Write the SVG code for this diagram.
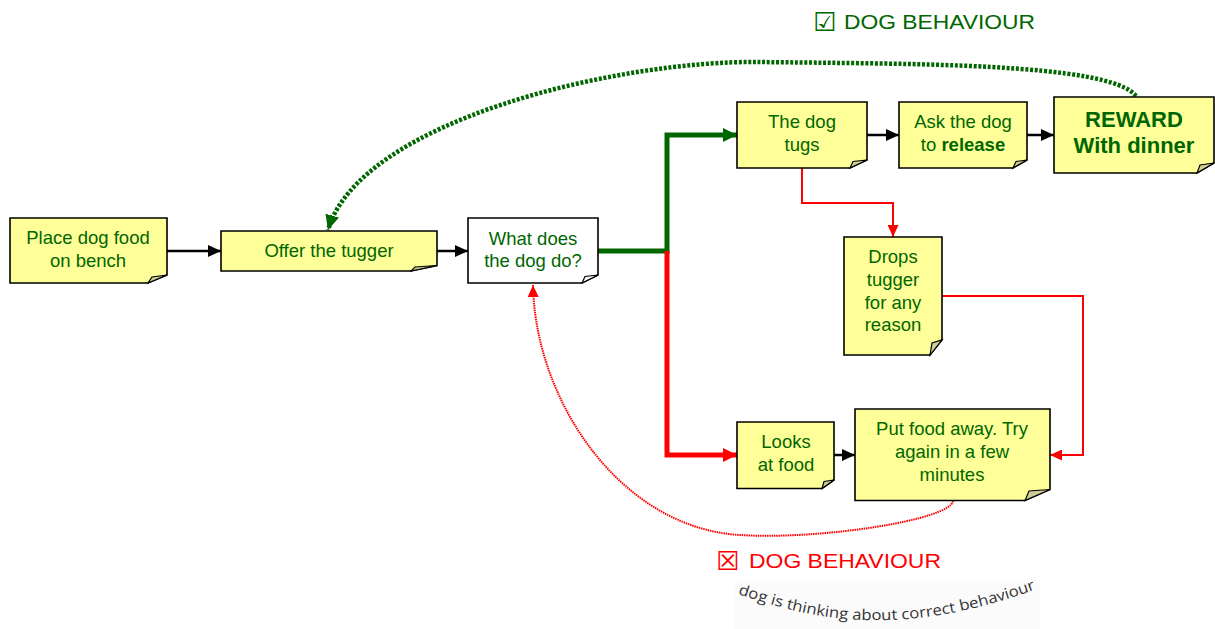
<svg xmlns="http://www.w3.org/2000/svg" width="1215" height="629" viewBox="0 0 1215 629">
<style>
.box{fill:#FFFF99;stroke:#000;stroke-width:1.6}
.wbox{fill:#fff;stroke:#000;stroke-width:1.6}
.fold{fill:#CFCF95;stroke:#000;stroke-width:1.2}
.wfold{fill:#fff;stroke:#000;stroke-width:1.2}
.t{font-family:"Liberation Sans",Arial,sans-serif;font-size:18.5px;fill:#006600;text-anchor:middle}
.b{font-weight:bold}
.blk{fill:none;stroke:#000;stroke-width:2.5}
.thin{fill:none;stroke:#FF0000;stroke-width:2}
</style>
<defs>
<marker id="ab" markerUnits="userSpaceOnUse" markerWidth="13" markerHeight="12" refX="13" refY="6" orient="auto"><path d="M0,0 L13,6 L0,12 Z" fill="#000"/></marker>
<marker id="ag" markerUnits="userSpaceOnUse" markerWidth="14" markerHeight="14" refX="14" refY="7" orient="auto"><path d="M0,0 L14,7 L0,14 Z" fill="#006600"/></marker>
<marker id="ar" markerUnits="userSpaceOnUse" markerWidth="14" markerHeight="14" refX="14" refY="7" orient="auto"><path d="M0,0 L14,7 L0,14 Z" fill="#FF0000"/></marker>
<marker id="ars" markerUnits="userSpaceOnUse" markerWidth="12" markerHeight="11" refX="12" refY="5.5" orient="auto"><path d="M0,0 L12,5.5 L0,11 Z" fill="#FF0000"/></marker>
<marker id="agd" markerUnits="userSpaceOnUse" markerWidth="15" markerHeight="14" refX="15" refY="7" orient="auto"><path d="M0,0 L15,7 L0,14 Z" fill="#006600"/></marker>
</defs>

<rect x="735" y="583" width="305" height="46" fill="#fbfbfb"/>

<g id="connectors">
<line class="blk" x1="167" y1="251" x2="221" y2="251" marker-end="url(#ab)"/>
<line class="blk" x1="437" y1="251" x2="468" y2="251" marker-end="url(#ab)"/>
<path d="M598 251 H667 V135 H737" fill="none" stroke="#006600" stroke-width="5" marker-end="url(#ag)"/>
<path d="M667 251 V455 H737" fill="none" stroke="#FF0000" stroke-width="5" marker-end="url(#ar)"/>
<line class="blk" x1="867" y1="135" x2="899" y2="135" marker-end="url(#ab)"/>
<line class="blk" x1="1027" y1="135" x2="1054" y2="135" marker-end="url(#ab)"/>
<path class="thin" d="M802 168 V203 H893 V237" marker-end="url(#ars)"/>
<path class="thin" d="M942 296 H1083 V455 H1050" marker-end="url(#ars)"/>
<line class="blk" x1="834" y1="455" x2="855" y2="455" marker-end="url(#ab)"/>
<path d="M1136 96 C1110 62 900 64 760 62 C620 60 360 120 328 230" fill="none" stroke="#006600" stroke-width="4.5" stroke-dasharray="3 1.7" marker-end="url(#agd)"/>
<path d="M953 501 C950 520 820 540 740 535 C620 528 535 400 533 285" fill="none" stroke="#FF0000" stroke-width="2" stroke-dasharray="1.5 0.8" marker-end="url(#ars)"/>
</g>

<g id="n1">
<path class="box" d="M10 218 H167 V275 L148 283 H10 Z"/>
<path class="fold" d="M148 283 L167 275 L152 277 Z"/>
<text class="t" x="88" y="244">Place dog food</text>
<text class="t" x="88" y="267">on bench</text>
</g>
<g id="n2">
<path class="box" d="M221 231 H437 V265.5 L411 271 H221 Z"/>
<path class="fold" d="M411 271 L437 265.5 L415 267 Z"/>
<text class="t" x="329" y="257">Offer the tugger</text>
</g>
<g id="n3">
<path class="wbox" d="M468 218 H598 V275 L582 283 H468 Z"/>
<path class="wfold" d="M582 283 L598 275 L585 276.5 Z"/>
<text class="t" x="533" y="245">What does</text>
<text class="t" x="533" y="267">the dog do?</text>
</g>
<g id="n4">
<path class="box" d="M737 102 H867 V160 L850 168 H737 Z"/>
<path class="fold" d="M850 168 L867 160 L853 161.5 Z"/>
<text class="t" x="802" y="128">The dog</text>
<text class="t" x="802" y="151">tugs</text>
</g>
<g id="n5">
<path class="box" d="M899 102 H1027 V160 L1013 168 H899 Z"/>
<path class="fold" d="M1013 168 L1027 160 L1016 161.5 Z"/>
<text class="t" x="963" y="128">Ask the dog</text>
<text class="t" x="963" y="151">to <tspan class="b">release</tspan></text>
</g>
<g id="n6">
<path class="box" d="M1054 97 H1214 V163 L1197 173 H1054 Z"/>
<path class="fold" d="M1197 173 L1214 163 L1200 165 Z"/>
<text class="t b" x="1134" y="127" style="font-size:22px">REWARD</text>
<text class="t b" x="1134" y="153" style="font-size:22px">With dinner</text>
</g>
<g id="n7">
<path class="box" d="M844 237 H942 V340 L930 355 H844 Z"/>
<path class="fold" d="M930 355 L942 340 L932 343 Z"/>
<text class="t" x="893" y="263">Drops</text>
<text class="t" x="893" y="286">tugger</text>
<text class="t" x="893" y="309">for any</text>
<text class="t" x="893" y="331">reason</text>
</g>
<g id="n8">
<path class="box" d="M737 422 H834 V480 L822 488.5 H737 Z"/>
<path class="fold" d="M822 488.5 L834 480 L824 481.5 Z"/>
<text class="t" x="786" y="448">Looks</text>
<text class="t" x="786" y="471">at food</text>
</g>
<g id="n9">
<path class="box" d="M855 409 H1050 V489.5 L1025 500.5 H855 Z"/>
<path class="fold" d="M1025 500.5 L1050 489.5 L1029 491 Z"/>
<text class="t" x="952" y="435">Put food away. Try</text>
<text class="t" x="952" y="458">again in a few</text>
<text class="t" x="952" y="481">minutes</text>
</g>

<g id="labels">
<text x="813" y="31" font-family="DejaVu Sans,sans-serif" font-size="26" fill="#006600">☑</text>
<text x="844" y="29" font-family="Liberation Sans,Arial,sans-serif" font-size="21" fill="#006600" textLength="191" lengthAdjust="spacingAndGlyphs">DOG BEHAVIOUR</text>
<text x="716" y="570" font-family="DejaVu Sans,sans-serif" font-size="26" fill="#FF0000">☒</text>
<text x="749" y="568" font-family="Liberation Sans,Arial,sans-serif" font-size="21" fill="#FF0000" textLength="192" lengthAdjust="spacingAndGlyphs">DOG BEHAVIOUR</text>
<path id="arc" d="M738 594 C800 614 890 646 1050 584" fill="none"/>
<text font-family="Open Sans,sans-serif" font-size="15" fill="#333"><textPath href="#arc" textLength="305" lengthAdjust="spacingAndGlyphs">dog is thinking about correct behaviour</textPath></text>
</g>
</svg>
